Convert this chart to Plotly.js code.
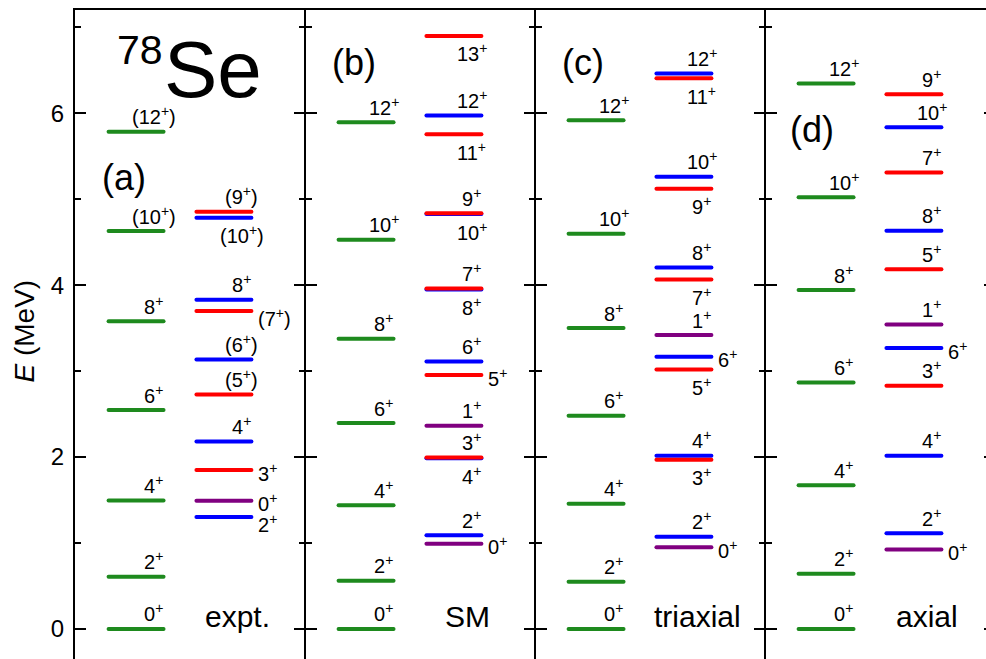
<!DOCTYPE html>
<html>
<head>
<meta charset="utf-8">
<script src="https://cdn.plot.ly/plotly-3.0.1.min.js"></script>
<style>
html,body{margin:0;padding:0;overflow:hidden;background:#fff;}
#chart{width:1000px;height:680px;}
.js-line{stroke-linecap:round;}
</style>
</head>
<body>
<div id="chart"></div>
<script>
// ---------- data ----------
const columnNames = ['expt.', 'SM', 'triaxial', 'axial'];
const panelTags = ['(a)', '(b)', '(c)', '(d)'];

// ground-state band (green, left column of each panel)
const gsbLabelsExpt = ['0+', '2+', '4+', '6+', '8+', '(10+)', '(12+)'];
const gsbLabelsTheo = ['0+', '2+', '4+', '6+', '8+', '10+', '12+'];
const gsbExpt = [0, 0.608, 1.496, 2.547, 3.581, 4.628, 5.783];
const gsbSM = [0, 0.562, 1.438, 2.395, 3.376, 4.527, 5.895];
const gsbTriaxial = [0, 0.550, 1.457, 2.480, 3.500, 4.597, 5.919];
const gsbAxial = [0, 0.643, 1.671, 2.868, 3.942, 5.023, 6.345];

// side bands (right column): b = even-spin gamma band, r = odd-spin gamma band, p = 0+/1+ states
const sideLabelsExpt = ['2+', '0+', '3+', '4+', '(5+)', '(6+)', '(7+)', '8+', '(10+)', '(9+)'];
const sideExpt = [1.302, 1.492, 1.849, 2.182, 2.729, 3.136, 3.698, 3.829, 4.783, 4.853];
const sideBandExpt = ['b', 'p', 'r', 'b', 'r', 'b', 'r', 'b', 'b', 'r'];
const sideLabelPosExpt = ['rb', 'r', 'r', 'a', 'a', 'a', 'rb', 'a', 'b', 'a'];

const sideLabelsSM = ['0+', '2+', '4+', '3+', '1+', '5+', '6+', '8+', '7+', '10+', '9+', '11+', '12+', '13+'];
const sideSM = [0.992, 1.089, 1.985, 1.995, 2.364, 2.953, 3.112, 3.950, 3.960, 4.826, 4.836, 5.756, 5.973, 6.899];
const sideBandSM = ['p', 'b', 'b', 'r', 'p', 'r', 'b', 'b', 'r', 'b', 'r', 'r', 'b', 'r'];
const sideLabelPosSM = ['r', 'a', 'b', 'a', 'a', 'r', 'a', 'b', 'a', 'b', 'a', 'b', 'a', 'b'];

const sideLabelsTriaxial = ['0+', '2+', '3+', '4+', '5+', '6+', '1+', '7+', '8+', '9+', '10+', '11+', '12+'];
const sideTriaxial = [0.950, 1.074, 1.969, 2.016, 3.019, 3.167, 3.419, 4.066, 4.205, 5.120, 5.260, 6.407, 6.461];
const sideBandTriaxial = ['p', 'b', 'r', 'b', 'r', 'b', 'p', 'r', 'b', 'r', 'b', 'r', 'b'];
const sideLabelPosTriaxial = ['r', 'a', 'b', 'a', 'b', 'r', 'a', 'b', 'a', 'b', 'a', 'b', 'a'];

const sideLabelsAxial = ['0+', '2+', '4+', '3+', '6+', '1+', '5+', '8+', '7+', '10+', '9+'];
const sideAxial = [0.926, 1.113, 2.016, 2.829, 3.267, 3.543, 4.183, 4.632, 5.310, 5.837, 6.221];
const sideBandAxial = ['p', 'b', 'b', 'r', 'b', 'p', 'r', 'b', 'r', 'b', 'r'];
const sideLabelPosAxial = ['r', 'a', 'a', 'a', 'r', 'a', 'a', 'a', 'a', 'a', 'a'];

// ---------- assemble ----------
const panels = [
  {gsb: gsbExpt, gsbLab: gsbLabelsExpt, side: sideExpt, lab: sideLabelsExpt, band: sideBandExpt, pos: sideLabelPosExpt},
  {gsb: gsbSM, gsbLab: gsbLabelsTheo, side: sideSM, lab: sideLabelsSM, band: sideBandSM, pos: sideLabelPosSM},
  {gsb: gsbTriaxial, gsbLab: gsbLabelsTheo, side: sideTriaxial, lab: sideLabelsTriaxial, band: sideBandTriaxial, pos: sideLabelPosTriaxial},
  {gsb: gsbAxial, gsbLab: gsbLabelsTheo, side: sideAxial, lab: sideLabelsAxial, band: sideBandAxial, pos: sideLabelPosAxial}
];

const COL = {g: '#1e8a1e', p: '#800080', b: '#0000ff', r: '#ff0000'};
const LEFT = [0.146, 0.385];
const RIGHT = [0.528, 0.767];
const LAB_LEFT = 0.342, LAB_RIGHT = 0.725, LAB_SIDE = 0.786;
const FONT = 'Liberation Sans, Arial, Helvetica, sans-serif';

function fmt(s) { return s.replace('+', '<sup>+</sup>'); }

const groups = {g: {x: [], y: []}, p: {x: [], y: []}, b: {x: [], y: []}, r: {x: [], y: []}};
const annotations = [];

function addLabel(x, y, text, pos) {
  const a = {x: x, y: y, xref: 'x', yref: 'y', text: fmt(text), showarrow: false,
    font: {family: FONT, size: 20, color: '#000'}, xanchor: 'center', yanchor: 'middle'};
  if (pos === 'a') { a.yshift = 16; }
  else if (pos === 'b') { a.yshift = -17; }
  else if (pos === 'r') { a.xanchor = 'left'; a.yshift = -2; }
  else if (pos === 'rb') { a.xanchor = 'left'; a.yshift = -6; }
  annotations.push(a);
}

panels.forEach((P, i) => {
  P.gsb.forEach((e, k) => {
    groups.g.x.push(i + LEFT[0], i + LEFT[1], null);
    groups.g.y.push(e, e, null);
    addLabel(i + LAB_LEFT, e, P.gsbLab[k], 'a');
  });
  P.side.forEach((e, k) => {
    const c = P.band[k];
    groups[c].x.push(i + RIGHT[0], i + RIGHT[1], null);
    groups[c].y.push(e, e, null);
    const pos = P.pos[k];
    addLabel(i + ((pos === 'r' || pos === 'rb') ? LAB_SIDE : LAB_RIGHT), e, P.lab[k], pos);
  });
  // column name
  annotations.push({x: i + 0.705, y: 0.15, xref: 'x', yref: 'y', text: columnNames[i], showarrow: false,
    font: {family: FONT, size: 30, color: '#000'}, xanchor: 'center', yanchor: 'middle'});
});

// panel tags
const tagX = [0.215, 1.215, 2.209, 3.204];
const tagY = [5.256, 6.593, 6.593, 5.814];
panelTags.forEach((t, i) => {
  annotations.push({x: tagX[i], y: tagY[i], xref: 'x', yref: 'y', text: t, showarrow: false,
    font: {family: FONT, size: 36, color: '#000'}, xanchor: 'center', yanchor: 'middle'});
});

// nucleus name
annotations.push({x: 0.602, y: 6.51, xref: 'x', yref: 'y', text: 'Se', showarrow: false,
  font: {family: FONT, size: 80, color: '#000'}, xanchor: 'center', yanchor: 'middle'});
annotations.push({x: 0.283, y: 6.733, xref: 'x', yref: 'y', text: '78', showarrow: false,
  font: {family: FONT, size: 41, color: '#000'}, xanchor: 'center', yanchor: 'middle'});

// y-axis title
annotations.push({x: -0.0545, y: 3.47, xref: 'paper', yref: 'y', text: '<i>E</i> (MeV)', showarrow: false,
  textangle: -90, font: {family: FONT, size: 28, color: '#000'}, xanchor: 'center', yanchor: 'middle'});

const traces = ['g', 'p', 'b', 'r'].map(c => ({
  type: 'scatter', mode: 'lines', x: groups[c].x, y: groups[c].y,
  line: {color: COL[c], width: 4}, hoverinfo: 'skip', connectgaps: false
}));

const YR = [-0.477, 7.2];
const tickBase = {range: YR, tick0: 0, dtick: 2, ticklen: 11, tickwidth: 2, tickcolor: '#000',
  minor: {dtick: 1, ticklen: 6, tickwidth: 2, tickcolor: '#000'},
  showgrid: false, zeroline: false, fixedrange: true};

const layout = {
  width: 1000, height: 680,
  margin: {l: 75, r: 5, t: 10, b: 10},
  paper_bgcolor: '#fff', plot_bgcolor: '#fff',
  showlegend: false,
  font: {family: FONT, color: '#000'},
  xaxis: {range: [0, 4], showline: true, linewidth: 2, linecolor: '#000', mirror: true,
    showticklabels: false, ticks: '', showgrid: false, zeroline: false, fixedrange: true},
  yaxis: Object.assign({}, tickBase, {showline: true, linewidth: 2, linecolor: '#000', mirror: 'allticks',
    ticks: 'inside', minor: Object.assign({}, tickBase.minor, {ticks: 'inside'}),
    tickfont: {family: FONT, size: 24, color: '#000'}, ticklabelstandoff: 4}),
  annotations: annotations
};

// panel dividers as free axes with ticks on both sides
const dividerPos = [0.25, 0.5, 0.75];
let axN = 2;
dividerPos.forEach(p => {
  ['inside', 'outside'].forEach(dir => {
    layout['yaxis' + axN] = Object.assign({}, tickBase, {
      overlaying: 'y', anchor: 'free', position: p, side: 'left',
      showline: dir === 'inside', linewidth: 2, linecolor: '#000',
      ticks: dir, minor: Object.assign({}, tickBase.minor, {ticks: dir}),
      showticklabels: false
    });
    traces.push({type: 'scatter', mode: 'markers', x: [0], y: [-10], yaxis: 'y' + axN,
      marker: {size: 1, opacity: 0}, hoverinfo: 'skip'});
    axN++;
  });
});

Plotly.newPlot('chart', traces, layout, {staticPlot: true, displayModeBar: false});
</script>
</body>
</html>
